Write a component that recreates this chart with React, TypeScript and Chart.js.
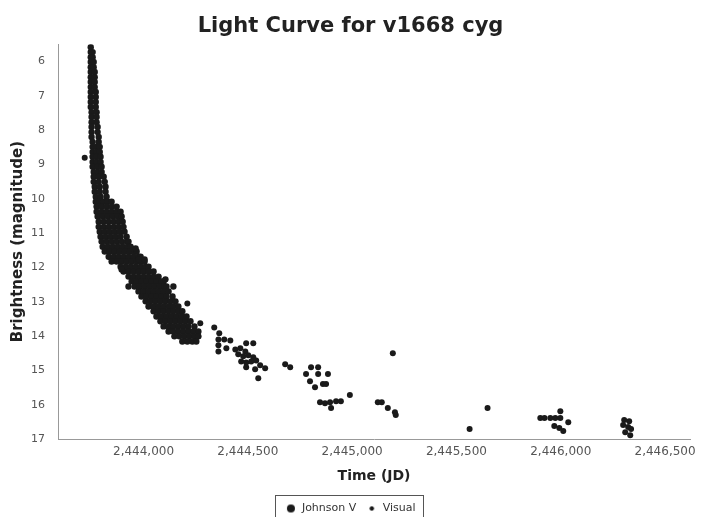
import React, { useEffect, useRef } from 'react';
import { Chart, registerables } from 'chart.js';

Chart.register(...registerables);

const TITLE = 'Light Curve for v1668 cyg';
const X_TITLE = 'Time (JD)';
const Y_TITLE = 'Brightness (magnitude)';
const SERIES_NAMES = ['Johnson V', 'Visual'];
const X_MIN = 2443590;
const X_MAX = 2446620;
const Y_MIN = 5.5;
const Y_MAX = 17;
const X_TICKS = [2444000, 2444500, 2445000, 2445500, 2446000, 2446500];
const Y_TICKS = [6, 7, 8, 9, 10, 11, 12, 13, 14, 15, 16, 17];

// Visual observations in the dense early decline: one magnitude per row, with the JDs seen at it
const visualRowMags = [
  5.59, 5.73, 5.88, 6.02, 6.17, 6.31, 6.46, 6.6, 6.75, 6.89, 7.04, 7.18, 7.33, 7.48, 7.62, 7.77,
  7.91, 8.06, 8.2, 8.35, 8.49, 8.64, 8.78, 8.93, 9.07, 9.22, 9.36, 9.51, 9.65, 9.8, 9.94, 10.09,
  10.23, 10.38, 10.52, 10.67, 10.82, 10.96, 11.11, 11.25, 11.4, 11.54, 11.69, 11.83, 11.98, 12.12,
  12.27, 12.41, 12.56, 12.7, 12.85, 12.99, 13.14, 13.28, 13.43, 13.57, 13.72, 13.87, 14.01, 14.16,
];
const visualRowJDs = [
  [2443747],
  [2443747, 2443756],
  [2443747, 2443756],
  [2443747, 2443761],
  [2443747, 2443761],
  [2443747, 2443766],
  [2443747, 2443766],
  [2443747, 2443766],
  [2443747, 2443766],
  [2443747, 2443771],
  [2443747, 2443771],
  [2443747, 2443771],
  [2443747, 2443771],
  [2443751, 2443775],
  [2443751, 2443775],
  [2443751, 2443775],
  [2443751, 2443780],
  [2443751, 2443780],
  [2443751, 2443785],
  [2443756, 2443785],
  [2443756, 2443775, 2443790],
  [2443756, 2443775, 2443790],
  [2443756, 2443775, 2443794],
  [2443756, 2443775, 2443794],
  [2443756, 2443780, 2443799],
  [2443761, 2443780, 2443799],
  [2443761, 2443785, 2443809],
  [2443761, 2443785, 2443814],
  [2443766, 2443790, 2443818],
  [2443766, 2443790, 2443818],
  [2443771, 2443794, 2443823],
  [2443771, 2443790, 2443809, 2443828, 2443847],
  [2443775, 2443799, 2443823, 2443847, 2443871],
  [2443775, 2443799, 2443823, 2443847, 2443871, 2443890],
  [2443780, 2443804, 2443828, 2443852, 2443876, 2443895],
  [2443785, 2443809, 2443833, 2443857, 2443880, 2443900],
  [2443785, 2443809, 2443833, 2443857, 2443880, 2443904],
  [2443790, 2443814, 2443837, 2443861, 2443885, 2443909],
  [2443794, 2443818, 2443842, 2443866, 2443890, 2443919],
  [2443799, 2443823, 2443847, 2443871, 2443895, 2443919, 2443928],
  [2443804, 2443828, 2443852, 2443876, 2443900, 2443924, 2443938],
  [2443814, 2443837, 2443861, 2443885, 2443909, 2443933, 2443957, 2443967],
  [2443833, 2443857, 2443880, 2443904, 2443928, 2443952, 2443976, 2443986],
  [2443847, 2443871, 2443895, 2443919, 2443943, 2443967, 2443990, 2444005],
  [2443890, 2443914, 2443938, 2443962, 2443986, 2444010, 2444024],
  [2443904, 2443928, 2443952, 2443976, 2444000, 2444024, 2444048],
  [2443928, 2443952, 2443976, 2444000, 2444024, 2444048, 2444072],
  [2443943, 2443967, 2443990, 2444014, 2444038, 2444062, 2444086, 2444096],
  [2443957, 2443981, 2444005, 2444029, 2444053, 2444077, 2444100, 2444110],
  [2443976, 2444000, 2444024, 2444048, 2444072, 2444096, 2444120],
  [2443990, 2444014, 2444038, 2444062, 2444086, 2444110, 2444139],
  [2444010, 2444033, 2444057, 2444081, 2444105, 2444129, 2444153],
  [2444024, 2444048, 2444072, 2444096, 2444120, 2444143, 2444167],
  [2444048, 2444072, 2444096, 2444120, 2444143, 2444167, 2444186],
  [2444062, 2444086, 2444110, 2444134, 2444158, 2444182, 2444206],
  [2444081, 2444105, 2444129, 2444153, 2444177, 2444201, 2444225],
  [2444096, 2444120, 2444143, 2444167, 2444191, 2444215, 2444244],
  [2444120, 2444143, 2444167, 2444191, 2444215, 2444239, 2444263],
  [2444148, 2444172, 2444196, 2444220, 2444244, 2444263],
  [2444186, 2444210, 2444234, 2444253],
];

// Scattered visual estimates just off the main band
const visualExtraJD = [2443962, 2443976, 2444005, 2443895, 2443928, 2444105, 2444143];
const visualExtraMag = [11.45, 11.77, 11.77, 12.06, 12.56, 12.35, 12.56];

// Johnson V measurements
const johnsonJD = [
  2443718,
  2444210, 2444272, 2444339, 2444363,
  2444359, 2444387, 2444416, 2444359, 2444359, 2444397,
  2444492, 2444526,
  2444440, 2444464, 2444488, 2444454, 2444478, 2444502, 2444526, 2444468, 2444492, 2444516,
  2444540, 2444559, 2444492, 2444535, 2444583, 2444550,
  2444679, 2444703,
  2444779, 2444803, 2444837, 2444837, 2444884, 2444798, 2444822, 2444860, 2444875,
  2444846, 2444870, 2444894, 2444923, 2444946, 2444899,
  2444989, 2445195, 2445123, 2445142, 2445171, 2445205, 2445209,
  2445563, 2445649,
  2445902, 2445922, 2445950, 2445974, 2445998, 2445998, 2445969, 2445993, 2446012, 2446036,
  2446304, 2446328, 2446299, 2446323, 2446337, 2446309, 2446333,
];
const johnsonMag = [
  8.81,
  13.05, 13.63, 13.75, 13.92,
  14.1, 14.1, 14.13, 14.27, 14.45, 14.36,
  14.21, 14.21,
  14.39, 14.36, 14.45, 14.53, 14.59, 14.56, 14.62, 14.74, 14.77, 14.74,
  14.71, 14.85, 14.91, 14.97, 14.94, 15.23,
  14.82, 14.91,
  15.11, 14.91, 14.91, 15.11, 15.11, 15.32, 15.49, 15.4, 15.4,
  15.93, 15.96, 15.93, 15.9, 15.9, 16.1,
  15.72, 14.5, 15.93, 15.93, 16.1, 16.22, 16.3,
  16.71, 16.1,
  16.39, 16.39, 16.39, 16.39, 16.39, 16.19, 16.62, 16.68, 16.77, 16.51,
  16.45, 16.48, 16.59, 16.65, 16.71, 16.8, 16.89,
];

const FONT = "'DejaVu Sans', sans-serif";

function dotImage(r: number): HTMLCanvasElement {
  const c = document.createElement('canvas');
  c.width = c.height = Math.ceil(2 * r + 2);
  const ctx = c.getContext('2d')!;
  ctx.fillStyle = '#1a1a1a';
  ctx.beginPath();
  ctx.arc(c.width / 2, c.height / 2, r, 0, Math.PI * 2);
  ctx.fill();
  return c;
}

const legendBoxPlugin = {
  id: 'legendBox',
  afterDraw(chart: any) {
    const lg = chart.legend;
    if (!lg || !lg.legendHitBoxes || !lg.legendHitBoxes.length) return;
    let l = Infinity, r = -Infinity, t = Infinity, b = -Infinity;
    for (const h of lg.legendHitBoxes) {
      l = Math.min(l, h.left);
      r = Math.max(r, h.left + h.width);
      t = Math.min(t, h.top);
      b = Math.max(b, h.top + h.height);
    }
    const ctx = chart.ctx;
    ctx.save();
    ctx.strokeStyle = '#555';
    ctx.lineWidth = 1;
    ctx.strokeRect(Math.round(l - 10) + 0.5, Math.round(t - 8) + 0.5, Math.round(r - l + 18), Math.round(b - t + 20));
    ctx.restore();
  },
};

export default function App() {
  const ref = useRef<HTMLCanvasElement | null>(null);

  useEffect(() => {
    document.body.style.margin = '0';
    const visualData: { x: number; y: number }[] = [];
    visualRowJDs.forEach((row, i) => {
      row.forEach((jd) => visualData.push({ x: jd, y: visualRowMags[i] }));
    });
    visualExtraJD.forEach((jd, i) => visualData.push({ x: jd, y: visualExtraMag[i] }));
    const johnsonData = johnsonJD.map((jd, i) => ({ x: jd, y: johnsonMag[i] }));

    const bigDot = dotImage(4);
    const smallDot = dotImage(2.2);

    const chart = new Chart(ref.current!, {
      type: 'scatter',
      data: {
        datasets: [
          {
            label: SERIES_NAMES[0],
            data: johnsonData,
            backgroundColor: '#1a1a1a',
            borderColor: '#1a1a1a',
            borderWidth: 0,
            pointRadius: 3,
            pointStyle: 'circle',
          },
          {
            label: SERIES_NAMES[1],
            data: visualData,
            backgroundColor: '#1a1a1a',
            borderColor: '#1a1a1a',
            borderWidth: 0,
            pointRadius: 3.2,
            pointStyle: 'circle',
          },
        ],
      },
      options: {
        animation: false,
        responsive: true,
        maintainAspectRatio: false,
        layout: { padding: { left: 9, right: 10, top: 0, bottom: -7 } },
        plugins: {
          tooltip: { enabled: false },
          title: {
            display: true,
            text: TITLE,
            color: '#222',
            font: { family: FONT, size: 21, weight: 'bold' },
            padding: { top: 14, bottom: 5 },
          },
          legend: {
            position: 'bottom',
            labels: {
              usePointStyle: true,
              color: '#333',
              font: { family: FONT, size: 11 },
              padding: 10,
              generateLabels: (c: any) => {
                const items = (Chart.defaults.plugins.legend.labels as any).generateLabels(c);
                items[0].pointStyle = bigDot;
                items[1].pointStyle = smallDot;
                return items;
              },
            },
          },
        },
        scales: {
          x: {
            type: 'linear',
            min: X_MIN,
            max: X_MAX,
            grid: { display: false, drawTicks: false },
            border: { display: true, color: '#999' },
            afterBuildTicks: (axis: any) => {
              axis.ticks = X_TICKS.map((v) => ({ value: v }));
            },
            afterFit: (axis: any) => {
              axis.height = 54;
            },
            ticks: {
              color: '#555',
              font: { family: FONT, size: 12 },
              padding: 6,
              maxRotation: 0,
              callback: (v: any) => Number(v).toLocaleString('en-US'),
            },
            title: {
              display: true,
              text: X_TITLE,
              color: '#222',
              font: { family: FONT, size: 14, weight: 'bold' },
              padding: { top: 10, bottom: 8 },
            },
          },
          y: {
            type: 'linear',
            reverse: true,
            min: Y_MIN,
            max: Y_MAX,
            grid: { display: false, drawTicks: false },
            border: { display: true, color: '#999' },
            afterBuildTicks: (axis: any) => {
              axis.ticks = Y_TICKS.map((v) => ({ value: v }));
            },
            afterFit: (axis: any) => {
              axis.width = 49;
            },
            ticks: {
              color: '#555',
              font: { family: FONT, size: 11 },
              padding: 13,
            },
            title: {
              display: true,
              text: Y_TITLE,
              color: '#222',
              font: { family: FONT, size: 15, weight: 'bold' },
              padding: { top: 0, bottom: 4 },
            },
          },
        },
      },
      plugins: [legendBoxPlugin],
    });
    return () => chart.destroy();
  }, []);

  return (
    <div style={{ position: 'absolute', left: 0, top: 0, width: 702, height: 517, background: '#fff' }}>
      <canvas ref={ref} />
    </div>
  );
}
